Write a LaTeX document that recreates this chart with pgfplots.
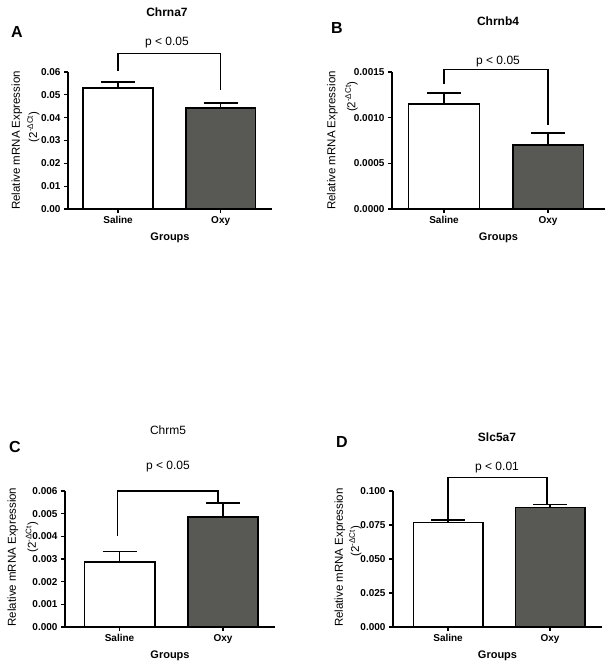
\documentclass[border=0pt]{standalone}
\usepackage{pgfplots}
\pgfplotsset{compat=1.18}
\usepackage{fontspec}
\setmainfont{Liberation Sans}
\definecolor{oxy}{RGB}{88,88,84}
\pgfplotsset{
  panel/.style={
    scale only axis,
    axis x line*=bottom, axis y line*=left,
    ymin=0, enlargelimits=false, clip=false,
    xtick={0,1}, xticklabels={Saline,Oxy},
    tick align=outside, major tick length=4pt,
    axis line style={line width=1.5pt, black},
    every tick/.style={black, line width=1.2pt},
    tick label style={font=\bfseries\fontsize{10}{12}\selectfont},
    xlabel={Groups},
    xlabel style={font=\bfseries\fontsize{11}{13}\selectfont},
    scaled y ticks=false,
    /pgf/number format/assume math mode=true,
  },
  salbar/.style={ybar, bar width=0.68, bar shift=0pt, fill=white, draw=black, line width=1.7pt,
    error bars/.cd, y dir=plus, y explicit, error mark=|,
    error bar style={line width=1.5pt, black},
    error mark options={line width=1.5pt, mark size=17pt, black}},
  oxybar/.style={ybar, bar width=0.68, bar shift=0pt, fill=oxy, draw=black, line width=1.7pt,
    error bars/.cd, y dir=plus, y explicit, error mark=|,
    error bar style={line width=1.5pt, black},
    error mark options={line width=1.5pt, mark size=17pt, black}},
  brk/.style={black, line width=1.5pt, mark=none},
}
\newcommand{\ylabA}{\fontsize{11.5}{13}\selectfont}
\begin{document}
\begin{tikzpicture}
\path[use as bounding box] (0pt,0pt) rectangle (609pt,668pt);

% Panel A
\begin{axis}[panel, at={(68pt,459pt)}, anchor=south west, width=204pt, height=137pt,
  xmin=-0.488, xmax=1.5, ymax=0.06,
  ytick={0,0.01,0.02,0.03,0.04,0.05,0.06},
  yticklabel style={/pgf/number format/.cd,fixed,fixed zerofill,precision=2}]
\addplot[salbar] coordinates {(0,0.0530) +- (0,0.0026)};
\addplot[oxybar] coordinates {(1,0.0443) +- (0,0.0021)};
\addplot[brk] coordinates {(0,0.0605) (0,0.068) (1,0.068) (1,0.052)};
\node[rotate=90, font=\ylabA] at (axis description cs:-0.25,0.5) {Relative mRNA Expression};
\node[rotate=90, font=\ylabA] at (axis description cs:-0.17,0.6) {(2\textsuperscript{-ΔCt})};
\end{axis}

% Panel B
\begin{axis}[panel, at={(392pt,459pt)}, anchor=south west, width=213pt, height=137pt,
  xmin=-0.5, xmax=1.548, ymax=0.0015,
  ytick={0,0.0005,0.001,0.0015},
  yticklabel style={/pgf/number format/.cd,fixed,fixed zerofill,precision=4}]
\addplot[salbar] coordinates {(0,0.00115) +- (0,0.00012)};
\addplot[oxybar] coordinates {(1,0.00070) +- (0,0.000134)};
\addplot[brk] coordinates {(0,0.00137) (0,0.001525) (1,0.001525) (1,0.000918)};
\node[rotate=90, font=\ylabA] at (axis description cs:-0.28,0.5) {Relative mRNA Expression};
\node[rotate=90, font=\ylabA] at (axis description cs:-0.19,0.82) {(2\textsuperscript{-ΔCt})};
\end{axis}

% Panel C
\begin{axis}[panel, at={(65pt,41pt)}, anchor=south west, width=210pt, height=136pt,
  xmin=-0.527, xmax=1.502, ymax=0.006,
  ytick={0,0.001,0.002,0.003,0.004,0.005,0.006},
  yticklabel style={/pgf/number format/.cd,fixed,fixed zerofill,precision=3}]
\addplot[salbar] coordinates {(0,0.00286) +- (0,0.00047)};
\addplot[oxybar] coordinates {(1,0.00484) +- (0,0.00062)};
\addplot[brk] coordinates {(-0.02,0.0040) (-0.02,0.0060) (0.95,0.0060) (0.95,0.00546)};
\node[rotate=90, font=\ylabA] at (axis description cs:-0.248,0.515) {Relative mRNA Expression};
\node[rotate=90, font=\ylabA] at (axis description cs:-0.157,0.66) {(2\textsuperscript{-ΔCt})};
\end{axis}

% Panel D
\begin{axis}[panel, at={(393pt,41pt)}, anchor=south west, width=209pt, height=136pt,
  xmin=-0.54, xmax=1.51, ymax=0.1,
  ytick={0,0.025,0.05,0.075,0.1},
  yticklabel style={/pgf/number format/.cd,fixed,fixed zerofill,precision=3}]
\addplot[salbar] coordinates {(0,0.0768) +- (0,0.0019)};
\addplot[oxybar] coordinates {(1,0.0878) +- (0,0.0022)};
\addplot[brk] coordinates {(0,0.0787) (0,0.110) (0.97,0.110) (0.97,0.090)};
\node[rotate=90, font=\ylabA] at (axis description cs:-0.254,0.51) {Relative mRNA Expression};
\node[rotate=90, font=\ylabA] at (axis description cs:-0.18,0.63) {(2\textsuperscript{-ΔCt})};
\end{axis}

% Titles, letters, p-values
\node[font=\bfseries\fontsize{16}{18}\selectfont] at (17pt,636pt) {A};
\node[font=\bfseries\fontsize{12}{14}\selectfont] at (167pt,656pt) {Chrna7};
\node[font=\fontsize{12}{14}\selectfont] at (167pt,625pt) {p < 0.05};

\node[font=\bfseries\fontsize{16}{18}\selectfont] at (337pt,640pt) {B};
\node[font=\bfseries\fontsize{12}{14}\selectfont] at (498pt,647pt) {Chrnb4};
\node[font=\fontsize{12}{14}\selectfont] at (498pt,606pt) {p < 0.05};

\node[font=\bfseries\fontsize{16}{18}\selectfont] at (15pt,221pt) {C};
\node[font=\fontsize{12}{14}\selectfont] at (168pt,238pt) {Chrm5};
\node[font=\fontsize{12}{14}\selectfont] at (168pt,201pt) {p < 0.05};

\node[font=\bfseries\fontsize{16}{18}\selectfont] at (342pt,226pt) {D};
\node[font=\bfseries\fontsize{12}{14}\selectfont] at (497pt,231pt) {Slc5a7};
\node[font=\fontsize{12}{14}\selectfont] at (497pt,200pt) {p < 0.01};
\end{tikzpicture}
\end{document}
